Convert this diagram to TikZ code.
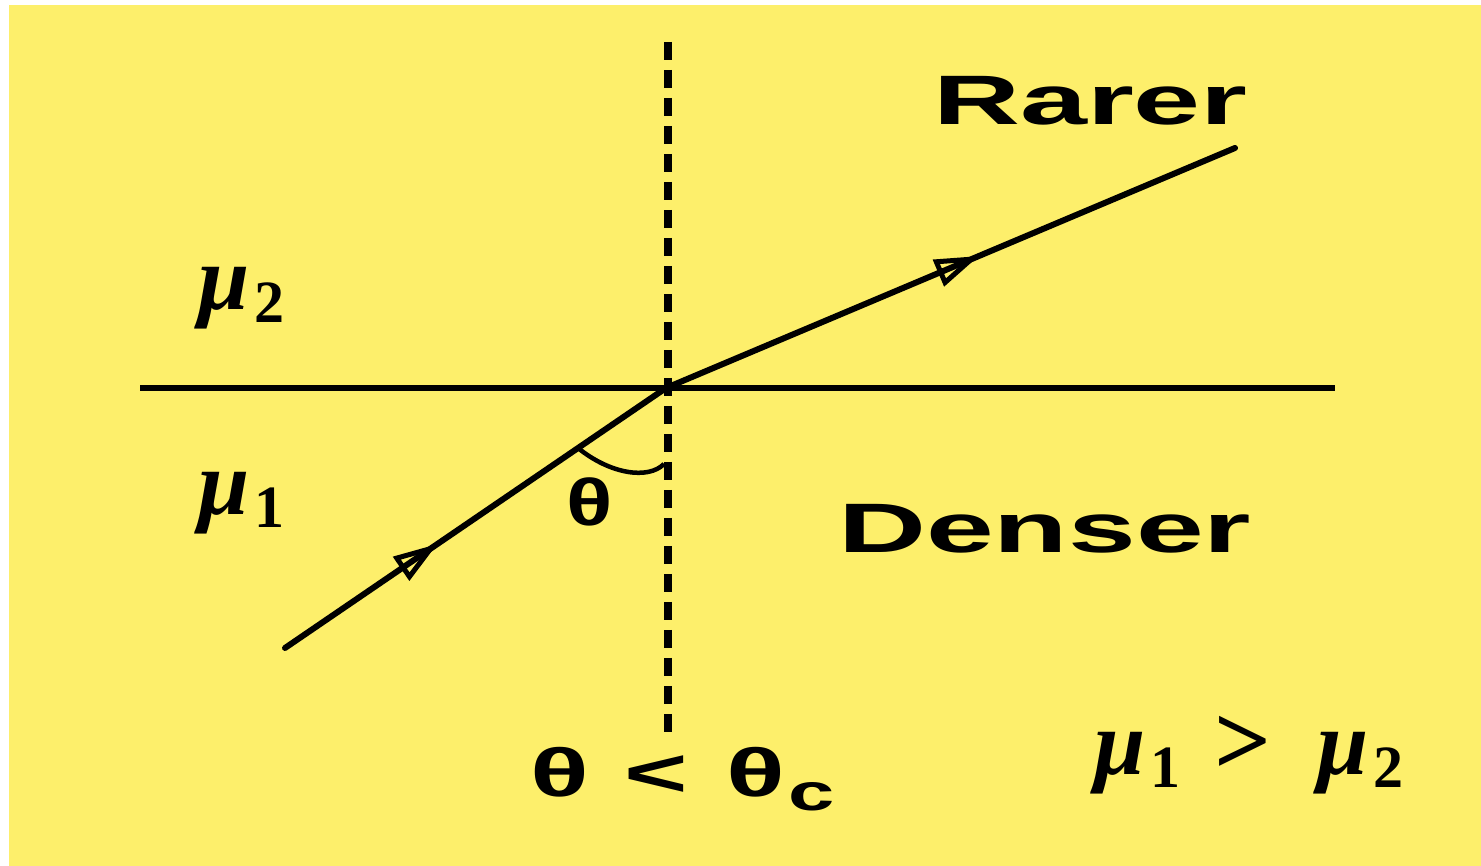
\documentclass[tikz,border=0pt]{standalone}
\usepackage{fontspec}
\setmainfont{Liberation Sans}
\newfontfamily\muf{Liberation Serif}
\usetikzlibrary{arrows.meta,decorations.markings}
\definecolor{bgy}{RGB}{253,239,107}
\newcommand{\mus}[1]{{\muf\fontsize{92}{92}\selectfont\bfseries\itshape μ\kern5pt\raisebox{-13pt}{\upshape\fontsize{60}{60}\selectfont #1}}}
\begin{document}
\begin{tikzpicture}[x=1pt,y=1pt,
  ray/.style={line width=6pt, line cap=round},
  midarrow/.style={postaction={decorate}, decoration={markings,
     mark=at position #1 with {\arrow{Triangle[open, length=44pt, width=28pt, line width=5pt]}}}},
  bigtxt/.style={inner sep=0pt, font=\fontsize{70}{70}\selectfont\bfseries},
  mutxt/.style={inner sep=0pt}]
\useasboundingbox (0,0) rectangle (1481,866);
\fill[bgy] (9,0) rectangle (1481,861);
\coordinate (O) at (666,478);
\coordinate (S) at (285,218);
\coordinate (E) at (1235,718);
\coordinate (HL) at (140,478);
\coordinate (HR) at (1335,478);
\coordinate (NT) at (668,824);
\coordinate (NB) at (668,131);
\coordinate (P1) at (578,418);
\coordinate (P2) at (664,402);
\draw[line width=6pt] (HL) -- (HR);
\draw[line width=8pt, dash pattern=on 18pt off 10pt] (NT) -- (NB);
\draw[ray, midarrow=0.40] (S) -- (O);
\draw[ray, midarrow=0.55] (O) -- (E);
\draw[line width=4.5pt] (P1) .. controls (610,392) and (648,386) .. (P2);
\node[bigtxt, anchor=base west] (rarer) at (933,741) {\scalebox{1.72}[1]{Rarer}};
\node[bigtxt, anchor=base west] (denser) at (838,313) {\scalebox{1.74}[1]{Denser}};
\node[inner sep=0pt, anchor=base] (theta) at (590,340) {\scalebox{1.3}[1]{\fontsize{66}{66}\selectfont\bfseries θ}};
\node[inner sep=0pt, anchor=base west] (cond) at (530,69) {\scalebox{1.6}[1]{\fontsize{68}{68}\selectfont\bfseries θ\hspace{22pt}<\hspace{24pt}θ\kern2pt\raisebox{-14pt}{\fontsize{52}{52}\selectfont c}}};
\node[mutxt, anchor=base west] (mu2) at (198,556) {\mus{2}};
\node[mutxt, anchor=base west] (mu1) at (198,351) {\mus{1}};
\node[mutxt, anchor=base west] (rel) at (1094,91) {\mus{1}\hspace{34pt}{\muf\fontsize{100}{100}\selectfont\bfseries >}\hspace{46pt}\mus{2}};
\end{tikzpicture}
\end{document}
